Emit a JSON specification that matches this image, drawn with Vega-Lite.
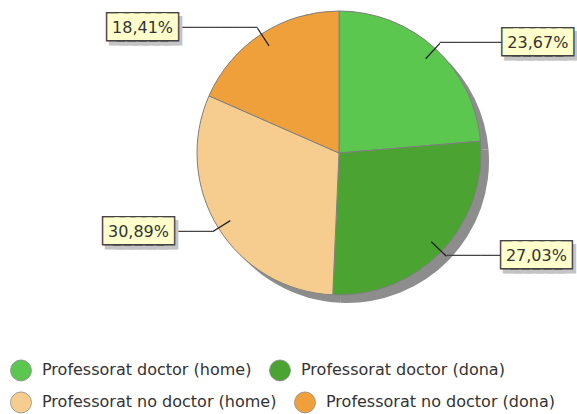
{
  "$schema": "https://vega.github.io/schema/vega-lite/v6.json",
  "width": 300,
  "height": 300,
  "autosize": {"type": "none"},
  "padding": {"left": 189, "top": 3, "right": 88, "bottom": 111},
  "background": "white",
  "config": {
    "view": {"stroke": null},
    "legend": {
      "orient": "none",
      "direction": "horizontal",
      "title": null,
      "symbolType": "circle",
      "symbolSize": 441,
      "symbolStrokeColor": "#8a8a8a",
      "symbolStrokeWidth": 0.8,
      "symbolOpacity": 1,
      "labelFont": "DejaVu Sans",
      "labelFontSize": 16,
      "labelColor": "#333333",
      "labelOffset": 10,
      "columnPadding": 15,
      "labelLimit": 400
    },
    "locale": {"number": {"decimal": ",", "thousands": ".", "grouping": [3], "currency": ["", " €"]}}
  },
  "data": {
    "values": [
      {"categoria": "Professorat doctor (home)", "proporcio": 0.2367, "ordre": 1},
      {"categoria": "Professorat doctor (dona)", "proporcio": 0.2703, "ordre": 2},
      {"categoria": "Professorat no doctor (home)", "proporcio": 0.3089, "ordre": 3},
      {"categoria": "Professorat no doctor (dona)", "proporcio": 0.1841, "ordre": 4}
    ]
  },
  "encoding": {
    "theta": {"field": "proporcio", "type": "quantitative", "stack": true},
    "order": {"field": "ordre", "type": "quantitative"}
  },
  "layer": [
    {
      "mark": {"type": "arc", "outerRadius": 142, "xOffset": 8, "yOffset": 8, "color": "#8d8d8d"}
    },
    {
      "mark": {"type": "arc", "outerRadius": 142},
      "encoding": {
        "fill": {
          "field": "categoria",
          "type": "nominal",
          "scale": {
            "domain": ["Professorat no doctor (home)", "Professorat no doctor (dona)", "Professorat doctor (home)", "Professorat doctor (dona)"],
            "range": ["#f6cd8e", "#f0a03a", "#5cc74e", "#4ba431"]
          },
          "legend": {
            "legendX": -179,
            "legendY": 388,
            "values": ["Professorat no doctor (home)", "Professorat no doctor (dona)"]
          }
        }
      }
    },
    {
      "mark": {"type": "arc", "outerRadius": 142, "stroke": "#808080", "strokeWidth": 1},
      "encoding": {
        "color": {
          "field": "categoria",
          "type": "nominal",
          "scale": {
            "domain": ["Professorat doctor (home)", "Professorat doctor (dona)", "Professorat no doctor (home)", "Professorat no doctor (dona)"],
            "range": ["#5cc74e", "#4ba431", "#f6cd8e", "#f0a03a"]
          },
          "legend": {
            "legendX": -179,
            "legendY": 356,
            "values": ["Professorat doctor (home)", "Professorat doctor (dona)"]
          }
        }
      }
    },
    {
      "mark": {"type": "arc", "innerRadius": 128, "outerRadius": 149, "padAngle": 3, "filled": false, "stroke": "#222222", "strokeWidth": 1.3}
    },
    {
      "mark": {"type": "text", "radius": 149, "align": "left", "baseline": "middle", "font": "DejaVu Sans Mono", "fontSize": 14, "fill": "#444444"},
      "encoding": {
        "text": {"condition": {"test": "indexof(datum.categoria, 'no doctor') < 0", "value": "───────────"}, "value": ""}
      }
    },
    {
      "mark": {"type": "text", "radius": 149, "align": "right", "baseline": "middle", "font": "DejaVu Sans Mono", "fontSize": 14, "fill": "#444444"},
      "encoding": {
        "text": {"condition": {"test": "indexof(datum.categoria, 'no doctor') >= 0", "value": "───────────"}, "value": ""}
      }
    },
    {
      "mark": {
        "type": "text", "radius": 149, "align": "center", "baseline": "middle",
        "font": "DejaVu Sans Mono", "fontSize": 18, "text": "██████",
        "fill": "#c4c4c4", "stroke": "#c4c4c4", "strokeWidth": 8, "strokeJoin": "miter",
        "dx": {"expr": "datum.categoria === 'Professorat doctor (home)' ? 101 : datum.categoria === 'Professorat doctor (dona)' ? 93 : datum.categoria === 'Professorat no doctor (home)' ? -71 : -112"},
        "dy": 4
      }
    },
    {
      "mark": {
        "type": "text", "radius": 149, "align": "center", "baseline": "middle",
        "font": "DejaVu Sans Mono", "fontSize": 18, "text": "██████",
        "fill": "#444444", "stroke": "#444444", "strokeWidth": 8, "strokeJoin": "miter",
        "dx": {"expr": "datum.categoria === 'Professorat doctor (home)' ? 98 : datum.categoria === 'Professorat doctor (dona)' ? 90 : datum.categoria === 'Professorat no doctor (home)' ? -74 : -115"}
      }
    },
    {
      "mark": {
        "type": "text", "radius": 149, "align": "center", "baseline": "middle",
        "font": "DejaVu Sans Mono", "fontSize": 18, "text": "██████",
        "fill": "#ffffcc", "stroke": "#ffffcc", "strokeWidth": 5, "strokeJoin": "miter",
        "dx": {"expr": "datum.categoria === 'Professorat doctor (home)' ? 98 : datum.categoria === 'Professorat doctor (dona)' ? 90 : datum.categoria === 'Professorat no doctor (home)' ? -74 : -115"}
      }
    },
    {
      "mark": {
        "type": "text", "radius": 149, "align": "center", "baseline": "middle",
        "font": "DejaVu Sans", "fontSize": 16, "fill": "#333333",
        "dx": {"expr": "datum.categoria === 'Professorat doctor (home)' ? 98 : datum.categoria === 'Professorat doctor (dona)' ? 90 : datum.categoria === 'Professorat no doctor (home)' ? -74 : -115"}
      },
      "encoding": {
        "text": {"field": "proporcio", "type": "quantitative", "format": ".2%"}
      }
    }
  ]
}
